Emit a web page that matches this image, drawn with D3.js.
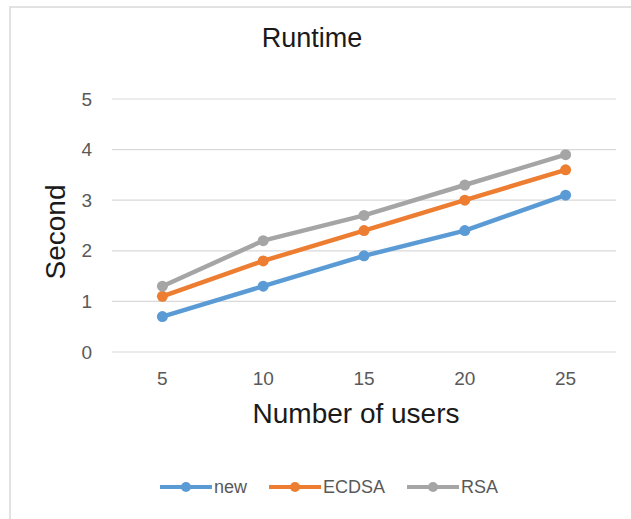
<!DOCTYPE html>
<html><head><meta charset="utf-8">
<script src="https://cdn.jsdelivr.net/npm/d3@7"></script>
<style>body{margin:0;background:#fff}svg{display:block}</style>
</head><body>
<svg id="chart" width="631" height="519"></svg>
<script>
const categories = ["5", "10", "15", "20", "25"];
const seriesNames = ["new", "ECDSA", "RSA"];
const newValues = [0.7, 1.3, 1.9, 2.4, 3.1];
const ecdsaValues = [1.1, 1.8, 2.4, 3.0, 3.6];
const rsaValues = [1.3, 2.2, 2.7, 3.3, 3.9];
const yTicks = [0, 1, 2, 3, 4, 5];
const colors = ["#5B9BD5", "#ED7D31", "#A5A5A5"];

const series = [newValues, ecdsaValues, rsaValues].map((v, i) => ({name: seriesNames[i], values: v, color: colors[i]}));

const svg = d3.select("#chart");
const W = 631, H = 519;
const plot = {left: 112, right: 616, top: 99, bottom: 352};

// outer border
svg.append("rect").attr("x", 10).attr("y", 7).attr("width", 660).attr("height", 560)
  .attr("fill", "#fff").attr("stroke", "#d9d9d9").attr("stroke-width", 1.5);

const x = d3.scaleBand().domain(categories).range([plot.left, plot.right]);
const y = d3.scaleLinear().domain([0, 5]).range([plot.bottom, plot.top]);

// gridlines
svg.append("g").selectAll("line").data(yTicks).join("line")
  .attr("x1", plot.left).attr("x2", plot.right)
  .attr("y1", d => y(d)).attr("y2", d => y(d))
  .attr("stroke", "#d9d9d9").attr("stroke-width", 1.2);

// y axis labels
const yAxis = svg.append("g").attr("transform", `translate(${plot.left},0)`)
  .call(d3.axisLeft(y).tickValues(yTicks).tickSize(0).tickPadding(20).tickFormat(d3.format("d")));
yAxis.select(".domain").remove();
yAxis.selectAll("text").attr("font-family", "Liberation Sans, Arial, sans-serif")
  .attr("font-size", 19).attr("fill", "#595959");

// x axis labels
const xAxis = svg.append("g").attr("transform", `translate(0,${plot.bottom})`)
  .call(d3.axisBottom(x).tickSize(0).tickPadding(20));
xAxis.select(".domain").remove();
xAxis.selectAll("text").attr("font-family", "Liberation Sans, Arial, sans-serif")
  .attr("font-size", 19).attr("fill", "#595959");

// lines
const line = d3.line().x((d, i) => x(categories[i]) + x.bandwidth() / 2).y(d => y(d));
const sg = svg.append("g").selectAll("g").data(series).join("g");
sg.append("path").attr("d", d => line(d.values)).attr("fill", "none")
  .attr("stroke", d => d.color).attr("stroke-width", 4.5).attr("stroke-linejoin", "round").attr("stroke-linecap", "round");
sg.selectAll("circle").data(d => d.values.map((v, i) => ({v, i, color: d.color}))).join("circle")
  .attr("cx", d => x(categories[d.i]) + x.bandwidth() / 2).attr("cy", d => y(d.v))
  .attr("r", 5.5).attr("fill", d => d.color);

// title
svg.append("text").attr("x", 312).attr("y", 47).attr("text-anchor", "middle")
  .attr("font-family", "Liberation Sans, Arial, sans-serif").attr("font-size", 27).attr("fill", "#1a1a1a")
  .text("Runtime");

// axis titles
svg.append("text").attr("transform", "translate(65,232) rotate(-90)").attr("text-anchor", "middle")
  .attr("font-family", "Liberation Sans, Arial, sans-serif").attr("font-size", 28).attr("fill", "#1a1a1a")
  .text("Second");
svg.append("text").attr("x", 356).attr("y", 423).attr("text-anchor", "middle")
  .attr("font-family", "Liberation Sans, Arial, sans-serif").attr("font-size", 28).attr("fill", "#1a1a1a")
  .text("Number of users");

// legend
const legend = svg.append("g");
const lineLen = 52, gapText = 2, gapItem = 22, ly = 487;
let cx = 0;
const items = legend.selectAll("g").data(series).join("g");
items.each(function(d) {
  const g = d3.select(this);
  g.append("line").attr("x1", 0).attr("x2", lineLen).attr("y1", 0).attr("y2", 0)
    .attr("stroke", d.color).attr("stroke-width", 4);
  g.append("circle").attr("cx", lineLen / 2).attr("cy", 0).attr("r", 5).attr("fill", d.color);
  const t = g.append("text").attr("x", lineLen + gapText).attr("y", 6)
    .attr("font-family", "Liberation Sans, Arial, sans-serif").attr("font-size", 18).attr("fill", "#595959")
    .text(d.name);
  const w = lineLen + gapText + t.node().getComputedTextLength();
  g.attr("transform", `translate(${cx},${ly})`);
  cx += w + gapItem;
});
const total = cx - gapItem;
legend.attr("transform", `translate(${329 - total / 2},0)`);
</script>
</body></html>
